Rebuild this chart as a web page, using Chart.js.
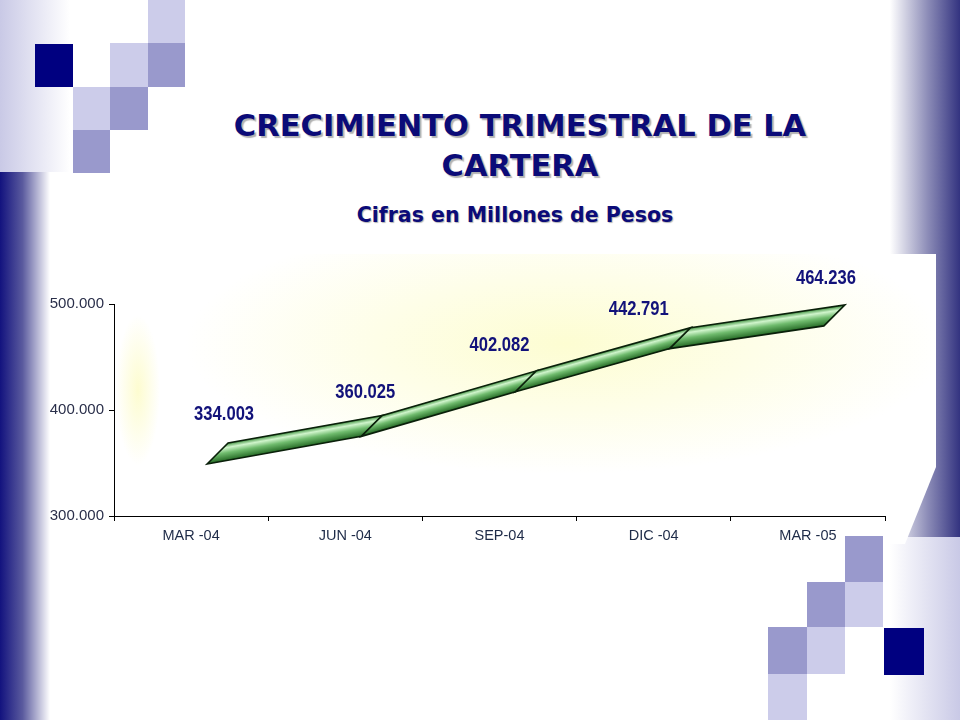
<!DOCTYPE html>
<html>
<head>
<meta charset="utf-8">
<script src="https://cdn.jsdelivr.net/npm/chart.js@4"></script>
<style>
  html, body { margin: 0; padding: 0; }
  body { width: 960px; height: 720px; position: relative; overflow: hidden; background: #fff; font-family: "DejaVu Sans", sans-serif; }
  .band { position: absolute; }
  .sq { position: absolute; }
  .light { background: #ccccea; }
  .mid { background: #9999cc; }
  .navy { background: #000080; }
  #panel { position: absolute; left: 105px; top: 254px; width: 831px; height: 290px;
    background: radial-gradient(ellipse 380px 130px at 460px 90px, #fdfdd2 0%, #fefee8 50%, #ffffff 100%);
    clip-path: polygon(0 0, 100% 0, 100% 213px, 800px 290px, 0 290px); }
  #glow { position: absolute; left: 110px; top: 300px; width: 60px; height: 180px;
    background: radial-gradient(ellipse 22px 75px at 28px 90px, #fdfcd0 0%, rgba(255,255,255,0) 100%); }
  .title { position: absolute; left: 0; width: 1040px; text-align: center; color: #0b0b78; font-weight: bold;
    text-shadow: 2px 2px 1px rgba(0,0,0,0.3); }
  #chart { position: absolute; left: 0; top: 0; }
</style>
</head>
<body>
<!-- slide decoration -->
<div class="band" style="left:0;top:0;width:70px;height:172px;background:linear-gradient(to right,#c9c9e6,#ffffff);"></div>
<div class="band" style="left:0;top:172px;width:50px;height:548px;background:linear-gradient(to right,#12127e 0%,#5a5a9e 45%,#ffffff 100%);"></div>
<div class="band" style="left:890px;top:0;width:70px;height:537px;background:linear-gradient(to right,#ffffff 0%,#8a8ab6 55%,#333380 100%);"></div>
<div class="band" style="left:890px;top:537px;width:70px;height:183px;background:linear-gradient(to right,#ffffff,#c9c9e6);"></div>
<div id="panel"></div>
<div id="glow"></div>

<div class="sq light" style="left:148px;top:0;width:37px;height:43px;"></div>
<div class="sq light" style="left:110px;top:43px;width:38px;height:44px;"></div>
<div class="sq mid" style="left:148px;top:43px;width:37px;height:44px;"></div>
<div class="sq navy" style="left:35px;top:44px;width:38px;height:43px;"></div>
<div class="sq light" style="left:73px;top:87px;width:37px;height:43px;"></div>
<div class="sq mid" style="left:110px;top:87px;width:38px;height:43px;"></div>
<div class="sq mid" style="left:73px;top:130px;width:37px;height:43px;"></div>

<div class="sq mid" style="left:845px;top:536px;width:38px;height:46px;"></div>
<div class="sq mid" style="left:807px;top:582px;width:38px;height:45px;"></div>
<div class="sq light" style="left:845px;top:582px;width:38px;height:45px;"></div>
<div class="sq mid" style="left:768px;top:627px;width:39px;height:47px;"></div>
<div class="sq light" style="left:807px;top:627px;width:38px;height:47px;"></div>
<div class="sq navy" style="left:884px;top:628px;width:40px;height:47px;"></div>
<div class="sq light" style="left:768px;top:674px;width:39px;height:46px;"></div>

<div class="title" style="top:106px;font-size:30.5px;line-height:40px;">CRECIMIENTO TRIMESTRAL DE LA<br>CARTERA</div>
<div class="title" style="top:202px;left:-5px;font-size:20.5px;line-height:26px;text-shadow:1px 1px 1px rgba(0,0,0,0.3);">Cifras en Millones de Pesos</div>

<canvas id="chart" width="960" height="720"></canvas>

<script>
// Quarterly portfolio, millions of pesos
const quarters = ['MAR -04', 'JUN -04', 'SEP-04', 'DIC -04', 'MAR -05'];
const portfolio = [334003, 360025, 402082, 442791, 464236];
const yTicks = [300000, 400000, 500000];

// where each value label sits relative to its point (px)
const labelNudge = [[33, -65], [20, -60], [0, -62], [-15, -55], [18, -63]];

// 3D ribbon depth offsets (px)
const FRONT = [16, -16];
const BACK = [37, -37];

function fmt(v) {
    return String(Math.round(v)).replace(/\B(?=(\d{3})+(?!\d))/g, '.');
}

// Draw the line as a shaded 3D ribbon, segment by segment
const ribbon = {
    id: 'ribbon',
    afterDatasetsDraw(chart) {
        const ctx = chart.ctx;
        const pts = chart.getDatasetMeta(0).data;
        ctx.save();
        for (let i = 0; i < pts.length - 1; i++) {
            const p = pts[i], q = pts[i + 1];
            const a = [p.x + FRONT[0], p.y + FRONT[1]];
            const b = [q.x + FRONT[0], q.y + FRONT[1]];
            const c = [q.x + BACK[0], q.y + BACK[1]];
            const d = [p.x + BACK[0], p.y + BACK[1]];
            // shade across the ribbon, perpendicular to the segment
            const dx = q.x - p.x, dy = q.y - p.y;
            const len = Math.hypot(dx, dy);
            const nx = -dy / len, ny = dx / len;
            const depth = (BACK[0] - FRONT[0]) * nx + (BACK[1] - FRONT[1]) * ny;
            const mx = (a[0] + b[0]) / 2, my = (a[1] + b[1]) / 2;
            const g = ctx.createLinearGradient(mx, my, mx + nx * depth, my + ny * depth);
            g.addColorStop(0, '#256a25');
            g.addColorStop(0.45, '#6fbb6d');
            g.addColorStop(0.75, '#d0f5cc');
            g.addColorStop(1, '#3f913f');
            ctx.beginPath();
            ctx.moveTo(a[0], a[1]);
            ctx.lineTo(b[0], b[1]);
            ctx.lineTo(c[0], c[1]);
            ctx.lineTo(d[0], d[1]);
            ctx.closePath();
            ctx.fillStyle = g;
            ctx.fill();
            ctx.lineWidth = 1.6;
            ctx.strokeStyle = '#0a200a';
            ctx.stroke();
        }
        ctx.restore();
    }
};

const valueLabels = {
    id: 'valueLabels',
    afterDatasetsDraw(chart) {
        const ctx = chart.ctx;
        const pts = chart.getDatasetMeta(0).data;
        ctx.save();
        ctx.font = 'bold 20px "Liberation Sans", Arial, sans-serif';
        ctx.fillStyle = '#12127a';
        ctx.textAlign = 'center';
        ctx.textBaseline = 'middle';
        pts.forEach((p, i) => {
            ctx.save();
            ctx.translate(p.x + labelNudge[i][0], p.y + labelNudge[i][1]);
            ctx.scale(0.83, 1);
            ctx.fillText(fmt(portfolio[i]), 0, 0);
            ctx.restore();
        });
        ctx.restore();
    }
};

const chart = new Chart(document.getElementById('chart').getContext('2d'), {
    type: 'line',
    data: {
        labels: quarters,
        datasets: [{
            label: 'Cartera',
            data: portfolio,
            borderWidth: 0,
            borderColor: 'rgba(0,0,0,0)',
            pointRadius: 0,
            fill: false
        }]
    },
    options: {
        responsive: false,
        animation: false,
        layout: { padding: { left: 0, top: 304, right: 75, bottom: 164 } },
        plugins: {
            legend: { display: false },
            tooltip: { enabled: false }
        },
        scales: {
            x: {
                offset: true,
                grid: { display: true, offset: true, drawOnChartArea: false, tickLength: 5, color: '#000' },
                border: { color: '#000', width: 1 },
                ticks: { color: '#1e2b48', font: { family: 'Liberation Sans, Arial, sans-serif', size: 14.5 }, padding: 6, maxRotation: 0 },
                afterFit(scale) { scale.height = 40; }
            },
            y: {
                min: yTicks[0],
                max: yTicks[yTicks.length - 1],
                afterBuildTicks(scale) { scale.ticks = yTicks.map(v => ({ value: v })); },
                grid: { display: true, drawOnChartArea: false, tickLength: 5, color: '#000' },
                border: { color: '#000', width: 1 },
                ticks: {
                    color: '#2a2f4a',
                    font: { family: 'Liberation Sans, Arial, sans-serif', size: 15 },
                    padding: 5,
                    callback: v => fmt(v)
                },
                afterFit(scale) { scale.width = 114; }
            }
        }
    },
    plugins: [ribbon, valueLabels]
});
</script>
</body>
</html>
